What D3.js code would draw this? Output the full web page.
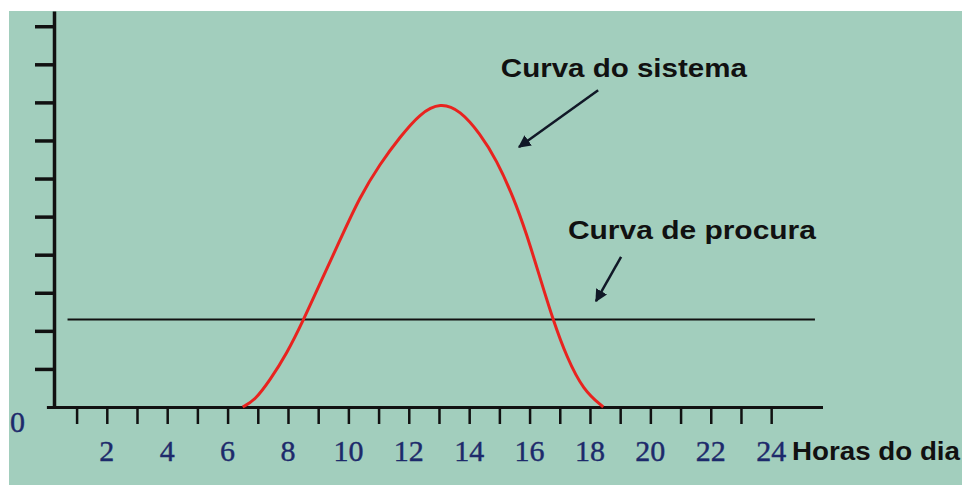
<!DOCTYPE html>
<html>
<head>
<meta charset="utf-8">
<script src="https://cdn.jsdelivr.net/npm/d3@7"></script>
<style>
  html, body { margin: 0; padding: 0; background: #ffffff; }
  svg { display: block; }
  .label { font-family: "Liberation Sans", Arial, sans-serif; font-weight: bold; fill: #111111; }
  .hour { font-family: "Liberation Serif", "Times New Roman", serif; fill: #1d2a6b; stroke: #1d2a6b; stroke-width: 0.4; }
</style>
</head>
<body>
<svg id="chart" width="962" height="485"></svg>
<script>
// hours of the day (x) and system output (y)
const systemHours = [6.5, 6.91, 7.4, 7.96, 8.51, 9.06, 9.72, 10.38, 11.05, 11.71, 12.37, 13.05, 13.7, 14.36, 14.91, 15.46, 15.9, 16.34, 16.78, 17.23, 17.78, 18.44];
const systemValues = [0, 0.18, 0.7, 1.4, 2.28, 3.24, 4.38, 5.52, 6.39, 7.09, 7.71, 8.0, 7.79, 7.18, 6.48, 5.52, 4.55, 3.41, 2.28, 1.31, 0.44, 0];

// flat demand line
const demandHours = [0.7, 25.45];
const demandValues = [2.3, 2.3];

const yTicks = [1, 2, 3, 4, 5, 6, 7, 8, 9, 10];
const xTicks = [1, 2, 3, 4, 5, 6, 7, 8, 9, 10, 11, 12, 13, 14, 15, 16, 17, 18, 19, 20, 21, 22, 23, 24];
const xLabels = [2, 4, 6, 8, 10, 12, 14, 16, 18, 20, 22, 24];

const svg = d3.select("#chart");
const width = 962;
const height = 485;

const x = d3.scaleLinear().domain([0, 25.7]).range([46.4, 822.5]);
const y = d3.scaleLinear().domain([0, 10.4]).range([407, 11]);

svg.append("rect")
  .attr("x", 9)
  .attr("y", 11)
  .attr("width", width - 9)
  .attr("height", height - 11)
  .attr("fill", "#a2cebd");

// y axis: line with unlabeled ticks to the left
const yAxis = svg.append("g")
  .attr("transform", "translate(54,0)")
  .call(d3.axisLeft(y).tickValues(yTicks).tickSize(19).tickSizeOuter(0).tickFormat(""));
yAxis.select(".domain").attr("stroke", "#111").attr("stroke-width", 3.5);
yAxis.selectAll(".tick line").attr("stroke", "#111").attr("stroke-width", 3.5);

// x axis: hourly ticks hanging below
const xAxis = svg.append("g")
  .attr("transform", "translate(0,407)")
  .call(d3.axisBottom(x).tickValues(xTicks).tickSize(17).tickSizeOuter(0).tickFormat(""));
xAxis.select(".domain").attr("stroke", "#111").attr("stroke-width", 3);
xAxis.selectAll(".tick line").attr("stroke", "#111").attr("stroke-width", 2.5);

svg.append("g")
  .selectAll("text")
  .data(xLabels)
  .join("text")
  .attr("class", "hour")
  .attr("x", (d) => x(d))
  .attr("y", 461)
  .attr("text-anchor", "middle")
  .attr("font-size", 30)
  .text((d) => d);

svg.append("text")
  .attr("class", "hour")
  .attr("x", 17.5)
  .attr("y", 432)
  .attr("text-anchor", "middle")
  .attr("font-size", 30)
  .text("0");

const line = d3.line()
  .x((d) => x(d[0]))
  .y((d) => y(d[1]));

svg.append("path")
  .datum(d3.zip(demandHours, demandValues))
  .attr("fill", "none")
  .attr("stroke", "#111")
  .attr("stroke-width", 2)
  .attr("d", line);

svg.append("path")
  .datum(d3.zip(systemHours, systemValues))
  .attr("fill", "none")
  .attr("stroke", "#e8231f")
  .attr("stroke-width", 3)
  .attr("d", line.curve(d3.curveBasis));

// annotations, placed in data units
svg.append("defs")
  .append("marker")
  .attr("id", "arrow")
  .attr("viewBox", "0 0 10 10")
  .attr("refX", 9)
  .attr("refY", 5)
  .attr("markerWidth", 5)
  .attr("markerHeight", 5)
  .attr("markerUnits", "strokeWidth")
  .attr("orient", "auto")
  .append("path")
  .attr("d", "M0,0 L10,5 L0,10 Z")
  .attr("fill", "#111827");

const arrows = [
  { from: [18.27, 8.32], to: [15.65, 6.83] },
  { from: [19.03, 3.94], to: [18.2, 2.78] },
];

svg.append("g")
  .selectAll("line")
  .data(arrows)
  .join("line")
  .attr("x1", (d) => x(d.from[0]))
  .attr("y1", (d) => y(d.from[1]))
  .attr("x2", (d) => x(d.to[0]))
  .attr("y2", (d) => y(d.to[1]))
  .attr("stroke", "#111827")
  .attr("stroke-width", 2.5)
  .attr("marker-end", "url(#arrow)");

const labels = [
  { text: "Curva do sistema", at: [15.05, 8.67], len: 246 },
  { text: "Curva de procura", at: [17.27, 4.41], len: 248 },
  { text: "Horas do dia", at: [24.69, -1.39], len: 168 },
];

svg.append("g")
  .selectAll("text")
  .data(labels)
  .join("text")
  .attr("class", "label")
  .attr("x", (d) => x(d.at[0]))
  .attr("y", (d) => y(d.at[1]))
  .attr("font-size", 25)
  .attr("textLength", (d) => d.len)
  .attr("lengthAdjust", "spacingAndGlyphs")
  .text((d) => d.text);
</script>
</body>
</html>
